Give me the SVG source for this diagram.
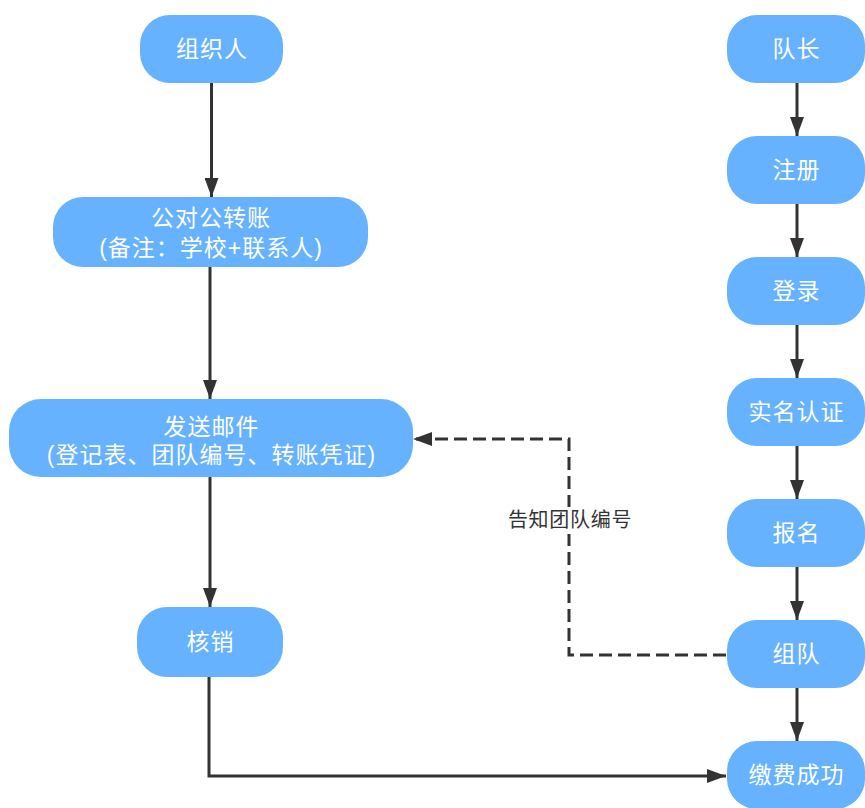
<svg xmlns="http://www.w3.org/2000/svg" width="865" height="808" viewBox="0 0 865 808">
<defs>
<style>
.node rect{fill:#66B2FF;}
.node text{fill:#ffffff;font-family:"Liberation Sans","Noto Sans CJK SC",sans-serif;font-size:23px;letter-spacing:1px;text-anchor:middle;}
.edge{fill:none;stroke:#333333;stroke-width:3;}
.dash{stroke-dasharray:13 6;}
.lbl{fill:#333333;font-family:"Liberation Sans","Noto Sans CJK SC",sans-serif;font-size:20px;letter-spacing:0.7px;text-anchor:middle;}
</style>
<marker id="arr" markerUnits="userSpaceOnUse" markerWidth="20" markerHeight="14" refX="19" refY="7" orient="auto" viewBox="0 0 20 14">
<path d="M0,0 L19,7 L0,14 z" fill="#333333"/>
</marker>
</defs>
<rect width="865" height="808" fill="#ffffff"/>
<g id="connectors">
<path class="edge" d="M211.5,83 V197" marker-end="url(#arr)"/>
<path class="edge" d="M210,267 V399" marker-end="url(#arr)"/>
<path class="edge" d="M210,477 V607" marker-end="url(#arr)"/>
<path class="edge" d="M209,677 V776 H726" marker-end="url(#arr)"/>
<path class="edge" d="M797,83 V136" marker-end="url(#arr)"/>
<path class="edge" d="M797,204 V257" marker-end="url(#arr)"/>
<path class="edge" d="M797,325 V378" marker-end="url(#arr)"/>
<path class="edge" d="M797,446 V499" marker-end="url(#arr)"/>
<path class="edge" d="M797,567 V620" marker-end="url(#arr)"/>
<path class="edge" d="M797,688 V741" marker-end="url(#arr)"/>
<path class="edge dash" d="M726,655 H569 V439 H413" marker-end="url(#arr)"/>
<rect x="504" y="507" width="131" height="27" fill="#ffffff"/>
<text class="lbl" x="570" y="527">告知团队编号</text>
</g>
<g id="n1" class="node"><rect x="140" y="15" width="143" height="68" rx="30" ry="30"/><text x="212" y="57">组织人</text></g>
<g id="n2" class="node"><rect x="53" y="197" width="315" height="70" rx="30" ry="30"/><text x="211" y="226">公对公转账</text><text x="211" y="256">(备注：学校+联系人)</text></g>
<g id="n3" class="node"><rect x="9" y="399" width="404" height="78" rx="32" ry="32"/><text x="211.5" y="435">发送邮件</text><text x="211.5" y="463">(登记表、团队编号、转账凭证)</text></g>
<g id="n4" class="node"><rect x="137" y="607" width="146" height="70" rx="30" ry="30"/><text x="210.5" y="650">核销</text></g>
<g id="r1" class="node"><rect x="727" y="15" width="138" height="68" rx="30" ry="30"/><text x="796.5" y="57">队长</text></g>
<g id="r2" class="node"><rect x="727" y="136" width="138" height="68" rx="30" ry="30"/><text x="796.5" y="178">注册</text></g>
<g id="r3" class="node"><rect x="727" y="257" width="138" height="68" rx="30" ry="30"/><text x="796.5" y="299">登录</text></g>
<g id="r4" class="node"><rect x="727" y="378" width="138" height="68" rx="30" ry="30"/><text x="796.5" y="420">实名认证</text></g>
<g id="r5" class="node"><rect x="727" y="499" width="138" height="68" rx="30" ry="30"/><text x="796.5" y="541">报名</text></g>
<g id="r6" class="node"><rect x="727" y="620" width="138" height="68" rx="30" ry="30"/><text x="796.5" y="662">组队</text></g>
<g id="r7" class="node"><rect x="727" y="741" width="138" height="68" rx="30" ry="30"/><text x="796.5" y="783">缴费成功</text></g>
</svg>
